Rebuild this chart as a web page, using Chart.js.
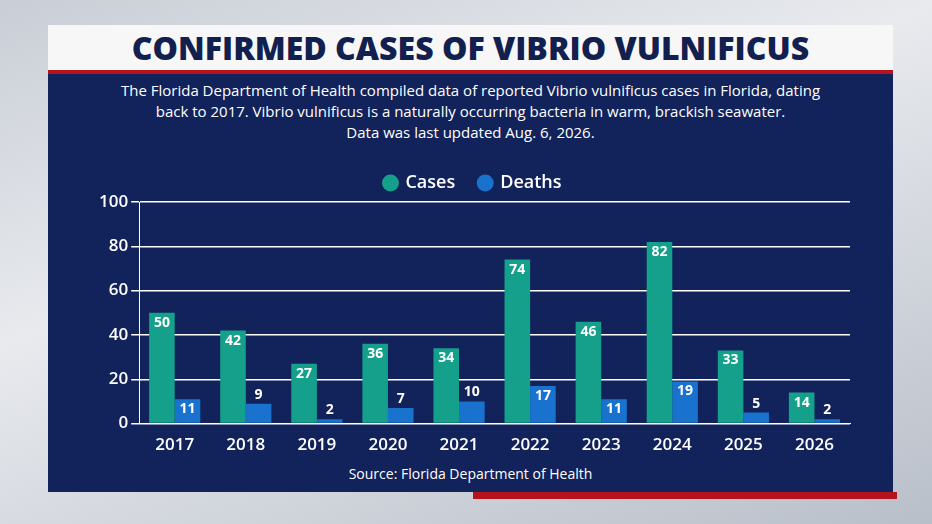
<!DOCTYPE html>
<html><head><meta charset="utf-8">
<script src="https://cdn.jsdelivr.net/npm/chart.js@4/dist/chart.umd.min.js"></script>
<style>
body{margin:0;width:932px;height:524px;overflow:hidden;background:linear-gradient(160deg,#c9ced6,#e8eaee 40%,#b9bfc9);font-family:"Open Sans",sans-serif}
#title{position:absolute;left:48px;top:25px;width:845px;height:45px;background:#f7f7f7;border-bottom:4px solid #b5121b;text-align:center;font:800 32px/45px "Open Sans";color:#12204f}
#panel{position:absolute;left:48px;top:74px;width:845px;height:418px;background:#12225a}
#red{position:absolute;left:473px;top:492px;width:424px;height:7px;background:#b5121b}
#sub{position:absolute;left:0;width:845px;top:6px;text-align:center;color:#fff;font:15px/21px "Open Sans"}
#src{position:absolute;left:0;width:845px;top:390px;text-align:center;color:#fff;font:14px "Open Sans"}
#wrap{position:absolute;left:48px;top:76px;width:758px;height:308px}
</style></head><body>
<div id="title">CONFIRMED CASES OF VIBRIO VULNIFICUS</div>
<div id="panel">
<div id="sub">The Florida Department of Health compiled data of reported Vibrio vulnificus cases in Florida, dating<br>back to 2017. Vibrio vulnificus is a naturally occurring bacteria in warm, brackish seawater.<br>Data was last updated Aug. 6, 2026.</div>
<div id="wrap"><canvas id="c"></canvas></div>
<div id="src">Source: Florida Department of Health</div>
</div>
<div id="red"></div>
<script>
const years = ['2017','2018','2019','2020','2021','2022','2023','2024','2025','2026'];
const cases = [50,42,27,36,34,74,46,82,33,14];
const deaths = [11,9,2,7,10,17,11,19,5,2];

const labelPlugin = {
  id:'lbl',
  afterDatasetsDraw(chart){
    const ctx = chart.ctx;
    ctx.save();
    ctx.font = 'bold 14px "Open Sans"';
    ctx.fillStyle = '#fff';
    ctx.textAlign = 'center';
    chart.data.datasets.forEach((ds,i)=>{
      chart.getDatasetMeta(i).data.forEach((bar,j)=>{
        const h = bar.base - bar.y;
        if (h > 22) { ctx.textBaseline='top'; ctx.fillText(ds.data[j], bar.x, bar.y+3); }
        else { ctx.textBaseline='bottom'; ctx.fillText(ds.data[j], bar.x, bar.y-2); }
      });
    });
    ctx.restore();
  }
};

new Chart(document.getElementById('c'), {
  type:'bar',
  data:{labels:years, datasets:[
    {label:'Cases', data:cases, backgroundColor:'#15a08c', categoryPercentage:0.72, barPercentage:1},
    {label:'Deaths', data:deaths, backgroundColor:'#1a72cf', categoryPercentage:0.72, barPercentage:1}
  ]},
  options:{
    responsive:true, maintainAspectRatio:false, animation:false,
    layout:{padding:{right:4}},
    plugins:{
      legend:{labels:{color:'#fff', font:{size:18,weight:'600',family:'Open Sans'}, usePointStyle:true, pointStyle:'circle', boxWidth:12, boxHeight:12, padding:24}},
      tooltip:{enabled:false}
    },
    scales:{
      x:{grid:{display:false}, border:{color:'#fff'}, ticks:{color:'#fff', font:{size:17,weight:'600',family:'Open Sans'}}},
      y:{min:0,max:100, ticks:{stepSize:20,color:'#fff',font:{size:17,weight:'600',family:'Open Sans'}}, grid:{color:'#fff',lineWidth:1.5}, border:{display:true,color:'#fff'}}
    }
  },
  plugins:[labelPlugin]
});
</script>
</body></html>
